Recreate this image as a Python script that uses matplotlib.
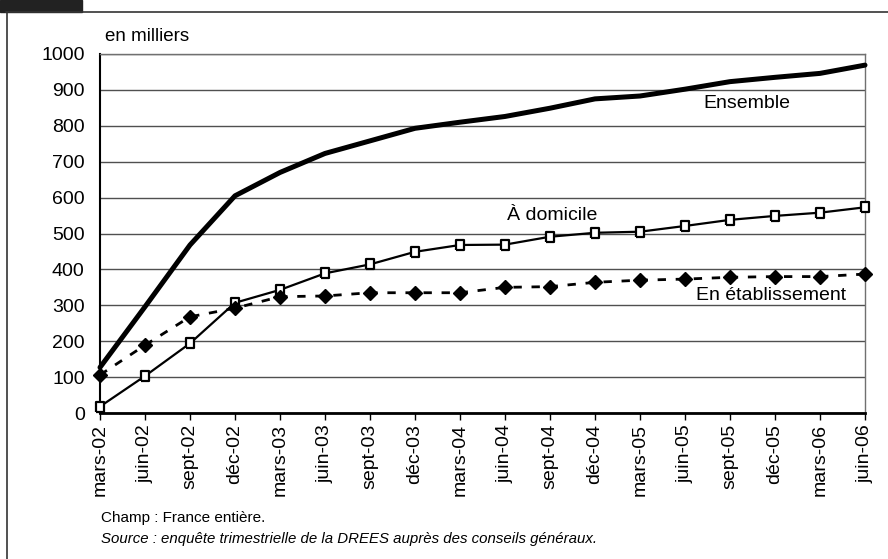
import matplotlib.pyplot as plt
import matplotlib.patches as mpatches
import matplotlib.lines as mlines

plt.rcParams['font.family'] = ['Liberation Sans', 'DejaVu Sans']

# trimestres
periodes = ['mars-02', 'juin-02', 'sept-02', 'déc-02', 'mars-03', 'juin-03',
            'sept-03', 'déc-03', 'mars-04', 'juin-04', 'sept-04', 'déc-04',
            'mars-05', 'juin-05', 'sept-05', 'déc-05', 'mars-06', 'juin-06']
# en milliers
ensemble = [127, 296, 468, 605, 670, 723, 758, 793, 810, 826, 849, 875,
            883, 902, 923, 935, 946, 969]
domicile = [18, 103, 194, 307, 343, 389, 414, 449, 468, 469, 491, 502,
            505, 521, 538, 549, 558, 573]
etablissement = [106, 189, 268, 292, 324, 326, 335, 335, 335, 350, 352, 364,
                 370, 373, 378, 380, 380, 387]

# petit rectangle vertical pour "A domicile"
rect = [(-0.35, -0.5), (0.35, -0.5), (0.35, 0.5), (-0.35, 0.5), (-0.35, -0.5)]

fig = plt.figure(figsize=(8.88, 5.59), dpi=100)
ax = fig.add_axes([100/888, 1-413/559, 765/888, 359/559])

x = list(range(len(periodes)))
ax.plot(x, ensemble, color='black', lw=3.6, solid_capstyle='round', zorder=3, clip_on=False)
ax.plot(x, domicile, color='black', lw=1.6, marker=rect, ms=7.5, mfc='white',
        mec='black', mew=1.6, zorder=4, clip_on=False)
ax.plot(x, etablissement, color='black', lw=2.0, ls=(0, (3, 3.5)), marker='D',
        ms=7.5, mfc='black', mec='black', zorder=4, clip_on=False)

ax.set_xlim(0, len(periodes) - 1)
ax.set_ylim(0, 1000)
ax.set_yticks(range(0, 1001, 100))
ax.set_xticks(x)
ax.set_xticklabels(periodes, rotation=90)
ax.tick_params(axis='x', length=5, width=1, labelsize=14, pad=3)
ax.tick_params(axis='y', length=0, labelsize=14, pad=11)
ax.yaxis.grid(True, color='#505050', lw=1)
ax.set_axisbelow(True)
for s in ['top', 'right']:
    ax.spines[s].set_color('#707070')
    ax.spines[s].set_linewidth(1)
ax.spines['left'].set_linewidth(1.5)
ax.spines['bottom'].set_linewidth(2)

ax.text(0.1, 1025, 'en milliers', fontsize=13.5, va='bottom', ha='left')
ax.text(13.4, 862, 'Ensemble', fontsize=14, va='center', ha='left')
ax.text(9.05, 551, 'À domicile', fontsize=14, va='center', ha='left')
ax.text(13.25, 326, 'En établissement', fontsize=14, va='center', ha='left')

fig.text(101/888, 1-518/559, 'Champ : France entière.', fontsize=11, va='center')
fig.text(101/888, 1-539/559,
         'Source : enquête trimestrielle de la DREES auprès des conseils généraux.',
         fontsize=10.8, style='italic', va='center')

# cadre
fig.add_artist(mlines.Line2D([6/888, 1], [1-12/559, 1-12/559], color='#333333', lw=1.2))
fig.add_artist(mlines.Line2D([6.5/888, 6.5/888], [0, 1-12/559], color='#333333', lw=1.2))
fig.add_artist(mpatches.Rectangle((0, 1-12/559), 82/888, 12/559, color='#222222'))

fig.savefig('out.png', dpi=100)
